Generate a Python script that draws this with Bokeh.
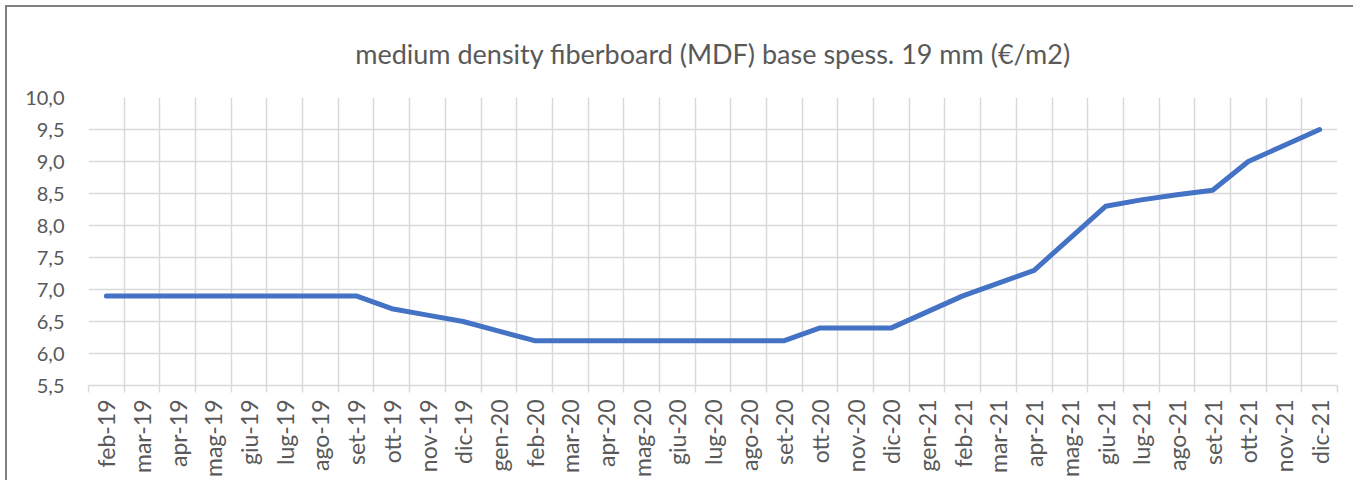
import math
from bokeh.plotting import figure
from bokeh.models import Range1d, LinearAxis, FixedTicker, Grid, ColumnDataSource
from bokeh.embed import file_html
from bokeh.resources import INLINE

months = ["feb-19", "mar-19", "apr-19", "mag-19", "giu-19", "lug-19", "ago-19", "set-19",
          "ott-19", "nov-19", "dic-19", "gen-20", "feb-20", "mar-20", "apr-20", "mag-20",
          "giu-20", "lug-20", "ago-20", "set-20", "ott-20", "nov-20", "dic-20", "gen-21",
          "feb-21", "mar-21", "apr-21", "mag-21", "giu-21", "lug-21", "ago-21", "set-21",
          "ott-21", "nov-21", "dic-21"]
prices = [6.9, 6.9, 6.9, 6.9, 6.9, 6.9, 6.9, 6.9,
          6.7, 6.6, 6.5, 6.35, 6.2, 6.2, 6.2, 6.2,
          6.2, 6.2, 6.2, 6.2, 6.4, 6.4, 6.4, 6.65,
          6.9, 7.1, 7.3, 7.8, 8.3, 8.4, 8.48, 8.55,
          9.0, 9.25, 9.5]
y_ticks = [5.5, 6.0, 6.5, 7.0, 7.5, 8.0, 8.5, 9.0, 9.5, 10.0]
title_text = "medium density fiberboard (MDF) base spess. 19 mm (€/m2)"

FONT = "Lato"
TXT = "#595959"
GRID = "#d9d9d9"

n = len(months)
xs = [i + 0.5 for i in range(n)]
src = ColumnDataSource(dict(x=xs, y=prices, m=months))

p = figure(frame_width=1249, frame_height=288, output_backend="svg", toolbar_location=None,
           x_range=Range1d(0, n), y_range=Range1d(y_ticks[0], y_ticks[-1]),
           x_axis_type=None, title=title_text,
           min_border_left=81, min_border_right=16, min_border_top=90, min_border_bottom=95)
p.styles = {"border-top": "2px solid #7f7f7f", "border-left": "2px solid #7f7f7f",
            "margin-top": "5px", "margin-left": "5px"}

p.title.align = "center"
p.title.text_font = FONT
p.title.text_font_style = "normal"
p.title.text_font_size = "27px"
p.title.text_color = TXT
p.title.offset = 0
p.title.standoff = 55

p.outline_line_color = None
p.background_fill_color = "white"
p.border_fill_color = "white"

# y axis
yax = p.yaxis[0]
yax.ticker = FixedTicker(ticks=y_ticks)
yax.major_label_overrides = {t: f"{t:.1f}".replace(".", ",") for t in y_ticks}
yax.axis_line_color = None
yax.major_tick_line_color = None
yax.minor_tick_line_color = None
yax.major_label_text_font = FONT
yax.major_label_text_font_size = "20px"
yax.major_label_text_color = TXT
yax.major_label_standoff = 18
p.ygrid.grid_line_color = GRID
p.ygrid.grid_line_width = 1.5
p.ygrid.ticker = FixedTicker(ticks=y_ticks)

# x tick-mark axis (category boundaries)
bounds = list(range(n + 1))
tax = LinearAxis(ticker=FixedTicker(ticks=bounds),
                 major_label_overrides={b: "" for b in bounds},
                 major_tick_out=7, major_tick_in=0,
                 major_tick_line_color=GRID, major_tick_line_width=1.5,
                 minor_tick_line_color=None,
                 axis_line_color=GRID, axis_line_width=1.5,
                 major_label_standoff=0, major_label_text_font_size="1px")
p.add_layout(tax, "below")

# x label axis (category centres)
lax = LinearAxis(ticker=FixedTicker(ticks=xs),
                 major_label_overrides={x: m for x, m in zip(xs, months)},
                 major_tick_line_color=None, minor_tick_line_color=None,
                 axis_line_color=None,
                 major_label_orientation=math.pi / 2,
                 major_label_text_font=FONT, major_label_text_font_size="23px",
                 major_label_text_color=TXT, major_label_standoff=1)
p.add_layout(lax, "below")

p.add_layout(Grid(dimension=0, ticker=FixedTicker(ticks=bounds),
                  grid_line_color=GRID, grid_line_width=1.5))

p.line("x", "y", source=src, line_color="#4472C4", line_width=5,
       line_cap="round", line_join="round")

open("out.html", "w").write(file_html(p, INLINE))
